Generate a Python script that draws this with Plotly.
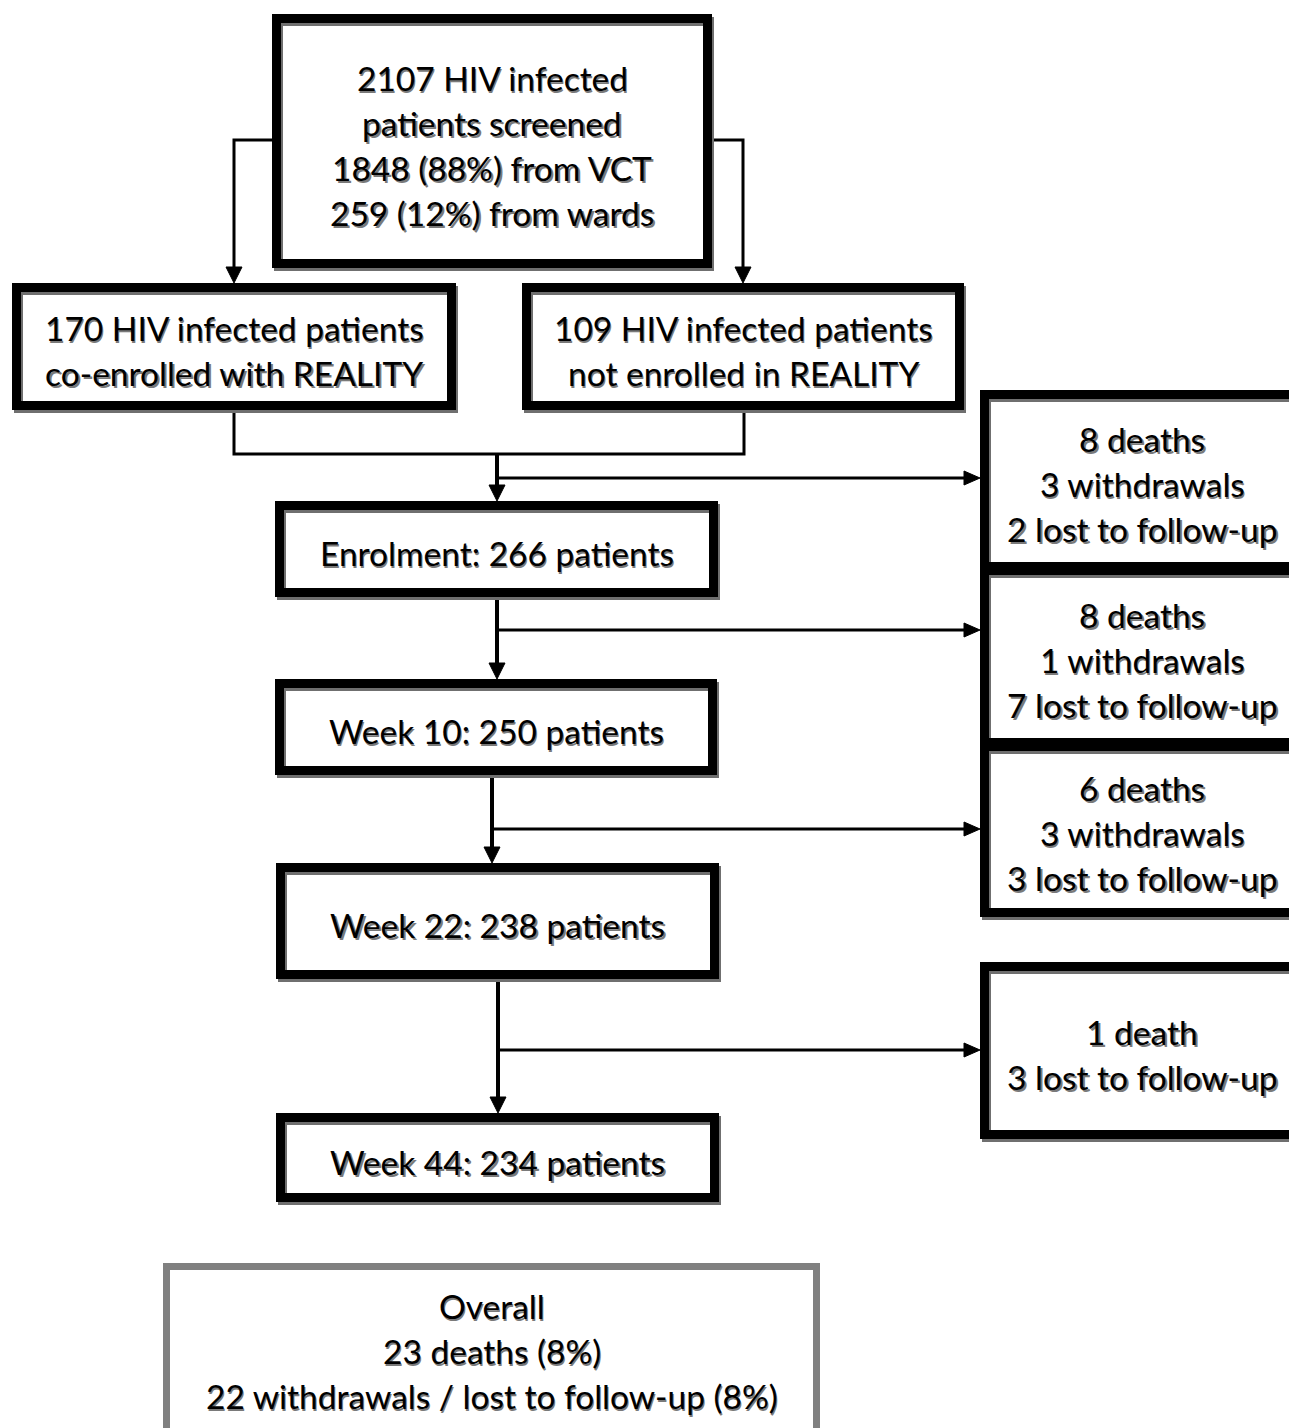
import plotly.graph_objects as go

# ---------------- data (texts) ----------------
screen_lines = ["2107 HIV infected", "patients screened", "1848 (88%) from VCT", "259 (12%) from wards"]
reality_lines = ["170 HIV infected patients", "co-enrolled with REALITY"]
nonreality_lines = ["109 HIV infected patients", "not enrolled in REALITY"]
stage_labels = ["Enrolment: 266 patients", "Week 10: 250 patients", "Week 22: 238 patients", "Week 44: 234 patients"]
loss_lines = [
    ["8 deaths", "3 withdrawals", "2 lost to follow-up"],
    ["8 deaths", "1 withdrawals", "7 lost to follow-up"],
    ["6 deaths", "3 withdrawals", "3 lost to follow-up"],
    ["1 death", "3 lost to follow-up"],
]
overall_lines = ["Overall", "23 deaths (8%)", "22 withdrawals / lost to follow-up (8%)"]

# ---------------- layout geometry (pixels) ----------------
W, H = 1289, 1428
BW = 9            # box border width
FONT = "Lato"
FS = 33.5
LS = 45           # line spacing

# boxes: (x0, y0, x1, y1) outer edges
box_screen = (272, 14, 712, 268)
box_left = (12, 283, 456, 410)
box_right = (522, 283, 964, 410)
box_stages = [(275, 501, 718, 597), (275, 679, 717, 775), (276, 863, 719, 979), (276, 1113, 719, 1202)]
box_losses = [(980, 390, 1304, 571), (980, 566, 1304, 747), (980, 742, 1304, 917), (980, 962, 1304, 1139)]
box_overall = (163, 1263, 820, 1450)

shapes = []
annotations = []


def add_box(b, color="black", width=BW, shadow=True):
    x0, y0, x1, y1 = b
    h = width / 2
    if shadow:
        shapes.append(dict(type="rect", xref="x", yref="y", x0=x0 + h + 2, y0=y0 + h + 3, x1=x1 - h + 2, y1=y1 - h + 3,
                           line=dict(color="#6f6f6f", width=width), fillcolor="rgba(0,0,0,0)", layer="above"))
    shapes.append(dict(type="rect", xref="x", yref="y", x0=x0 + h, y0=y0 + h, x1=x1 - h, y1=y1 - h,
                       line=dict(color=color, width=width), fillcolor="rgba(0,0,0,0)", layer="above"))


def add_text(b, lines, dy=4):
    x0, y0, x1, y1 = b
    cx = (x0 + x1) / 2
    cy = (y0 + y1) / 2 + dy
    n = len(lines)
    for i, t in enumerate(lines):
        y = cy + (i - (n - 1) / 2) * LS
        for col, ox, oy in (("#7a7a7a", 1.6, 2.4), ("black", 0, 0)):
            annotations.append(dict(x=cx + ox, y=y + oy, xref="x", yref="y", text=t, showarrow=False,
                                    xanchor="center", yanchor="middle",
                                    font=dict(family=FONT, size=FS, color=col)))


def line(pts, width=3):
    path = "M " + " L ".join(f"{x},{y}" for x, y in pts)
    shapes.append(dict(type="path", xref="x", yref="y", path=path, line=dict(color="black", width=width),
                       layer="above"))


def arrow_down(x, y, s=8, L=16):
    shapes.append(dict(type="path", xref="x", yref="y",
                       path=f"M {x - s},{y - L} L {x + s},{y - L} L {x},{y} Z",
                       fillcolor="black", line=dict(color="black", width=1), layer="above"))


def arrow_right(x, y, s=7, L=16):
    shapes.append(dict(type="path", xref="x", yref="y",
                       path=f"M {x - L},{y - s} L {x - L},{y + s} L {x},{y} Z",
                       fillcolor="black", line=dict(color="black", width=1), layer="above"))


# connectors from screening box
line([(272, 140), (234, 140), (234, 270)])
arrow_down(234, 283)
line([(712, 140), (743, 140), (743, 270)])
arrow_down(743, 283)

# merge of the two groups
line([(234, 410), (234, 454), (744, 454), (744, 410)])
line([(497, 454), (497, 488)], width=4)
arrow_down(497, 501)
line([(497, 478), (966, 478)])
arrow_right(980, 478)

# stage connectors
stage_x = [497, 492, 498]
side_y = [630, 829, 1050]
for i in range(3):
    x = stage_x[i]
    line([(x, box_stages[i][3]), (x, box_stages[i + 1][1] - 13)], width=4)
    arrow_down(x, box_stages[i + 1][1])
    line([(x, side_y[i]), (966, side_y[i])])
    arrow_right(980, side_y[i])

# boxes
add_box(box_screen)
add_box(box_left)
add_box(box_right)
for b in box_stages:
    add_box(b)
for b in box_losses:
    add_box(b)
add_box(box_overall, color="#808080", width=7, shadow=False)

# texts
add_text(box_screen, screen_lines, dy=4)
add_text(box_left, reality_lines, dy=4)
add_text(box_right, nonreality_lines, dy=4)
for b, t in zip(box_stages, stage_labels):
    add_text(b, [t], dy=4)
for b, t in zip(box_losses[:3], loss_lines[:3]):
    add_text(b, t, dy=3)
add_text(box_losses[3], loss_lines[3], dy=4)
ob = box_overall
overall_cy = (1306 + 1396) / 2
add_text((ob[0], overall_cy - 10, ob[2], overall_cy + 10), overall_lines, dy=0)

fig = go.Figure()
fig.update_layout(
    width=W, height=H,
    margin=dict(l=0, r=0, t=0, b=0),
    paper_bgcolor="white", plot_bgcolor="white",
    xaxis=dict(range=[0, W], visible=False, fixedrange=True),
    yaxis=dict(range=[H, 0], visible=False, fixedrange=True),
    shapes=shapes,
    annotations=annotations,
    showlegend=False,
)
fig.write_html("out.html", post_script="document.body.style.margin='0';",
               config={"displayModeBar": False})
